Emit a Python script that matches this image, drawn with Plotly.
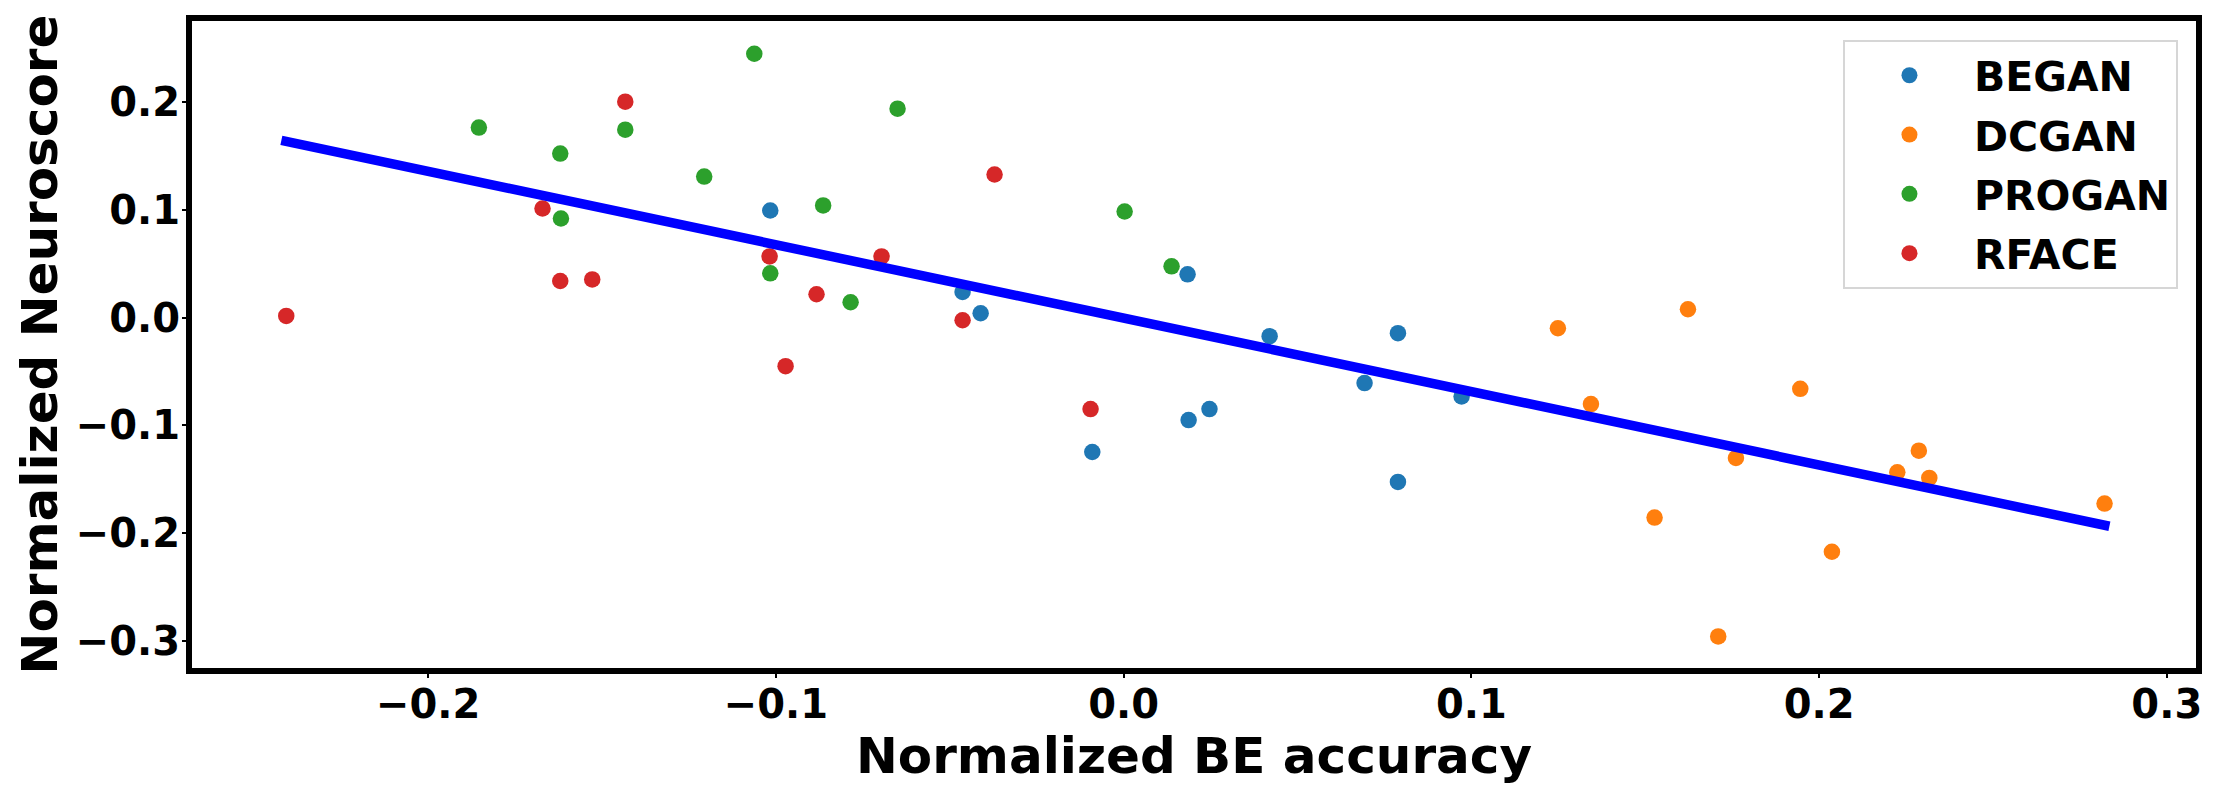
import plotly.graph_objects as go

# ---- data ----
began_x = [-0.1016, -0.0463, -0.0411, 0.0184, 0.0420, 0.0789, 0.0693, 0.0972, 0.0187, 0.0247, -0.0090, 0.0789]
began_y = [0.0994, 0.0238, 0.0041, 0.0402, -0.0172, -0.0144, -0.0607, -0.0731, -0.0950, -0.0848, -0.1246, -0.1524]

dcgan_x = [0.1249, 0.1623, 0.1946, 0.1344, 0.2287, 0.1761, 0.2225, 0.2317, 0.2821, 0.1527, 0.2037, 0.1710]
dcgan_y = [-0.0098, 0.0078, -0.0660, -0.0802, -0.1234, -0.1302, -0.1435, -0.1487, -0.1725, -0.1855, -0.2172, -0.2957]

progan_x = [-0.1854, -0.1433, -0.1620, -0.1206, -0.1618, -0.1062, -0.0650, -0.0864, 0.0003, -0.1016, 0.0138, -0.0785]
progan_y = [0.1763, 0.1744, 0.1522, 0.1309, 0.0920, 0.2448, 0.1939, 0.1041, 0.0985, 0.0411, 0.0476, 0.0143]

rface_x = [-0.2408, -0.1433, -0.1671, -0.1620, -0.1528, -0.0371, -0.1018, -0.0696, -0.0883, -0.0463, -0.0972, -0.0095]
rface_y = [0.0016, 0.2004, 0.1013, 0.0340, 0.0355, 0.1328, 0.0568, 0.0568, 0.0217, -0.0024, -0.0450, -0.0848]

fit_x = [-0.2422, 0.2835]
fit_y = [0.1645, -0.1935]

series_names = ["BEGAN", "DCGAN", "PROGAN", "RFACE"]
series_x = [began_x, dcgan_x, progan_x, rface_x]
series_y = [began_y, dcgan_y, progan_y, rface_y]
colors = ["#1f77b4", "#ff7f0e", "#2ca02c", "#d62728"]

x_ticks = [-0.2, -0.1, 0.0, 0.1, 0.2, 0.3]
y_ticks = [-0.3, -0.2, -0.1, 0.0, 0.1, 0.2]

FONT = "DejaVu Sans"

fig = go.Figure()
for name, xs, ys, c in zip(series_names, series_x, series_y, colors):
    fig.add_trace(go.Scatter(
        x=xs, y=ys, mode="markers", name=name, legendgroup=name,
        marker=dict(size=16.5, color=c, line=dict(width=0)),
    ))

fig.add_trace(go.Scatter(
    x=fit_x, y=fit_y, mode="lines", showlegend=False,
    line=dict(color="#0000ff", width=9.5),
))

axis_common = dict(
    showgrid=False, zeroline=False, automargin=False,
    showline=True, linecolor="black", linewidth=6, mirror=True,
    ticks="outside", ticklen=4, tickwidth=2, tickcolor="black",
    tickfont=dict(family=FONT, size=40, color="black", weight="bold"),
    tickformat=".1f",
)

fig.update_layout(
    template="none",
    width=2215, height=795,
    paper_bgcolor="white", plot_bgcolor="white",
    margin=dict(l=192, r=19, t=21, b=127, pad=0),
    xaxis=dict(
        range=[-0.2679, 0.3084], tickvals=x_ticks, ticklabelstandoff=-8,
        title=dict(text="Normalized BE accuracy", standoff=6,
                   font=dict(family=FONT, size=50, color="black", weight="bold")),
        **axis_common,
    ),
    yaxis=dict(
        range=[-0.3250, 0.2752], tickvals=y_ticks, ticklabelstandoff=-6,
        title=dict(text="Normalized Neuroscore", standoff=4,
                   font=dict(family=FONT, size=50, color="black", weight="bold")),
        **axis_common,
    ),
    legend=dict(
        x=0.991, y=0.9705, xanchor="right", yanchor="top",
        bgcolor="white", bordercolor="#d6d6d6", borderwidth=2,
        font=dict(family=FONT, size=41, color="black", weight="bold"),
        tracegroupgap=3, itemwidth=119,
    ),
    showlegend=True,
)

fig.write_html(
    "out.html",
    config={"displayModeBar": False},
    post_script="document.body.style.margin='0px';document.body.style.overflow='hidden';",
)
